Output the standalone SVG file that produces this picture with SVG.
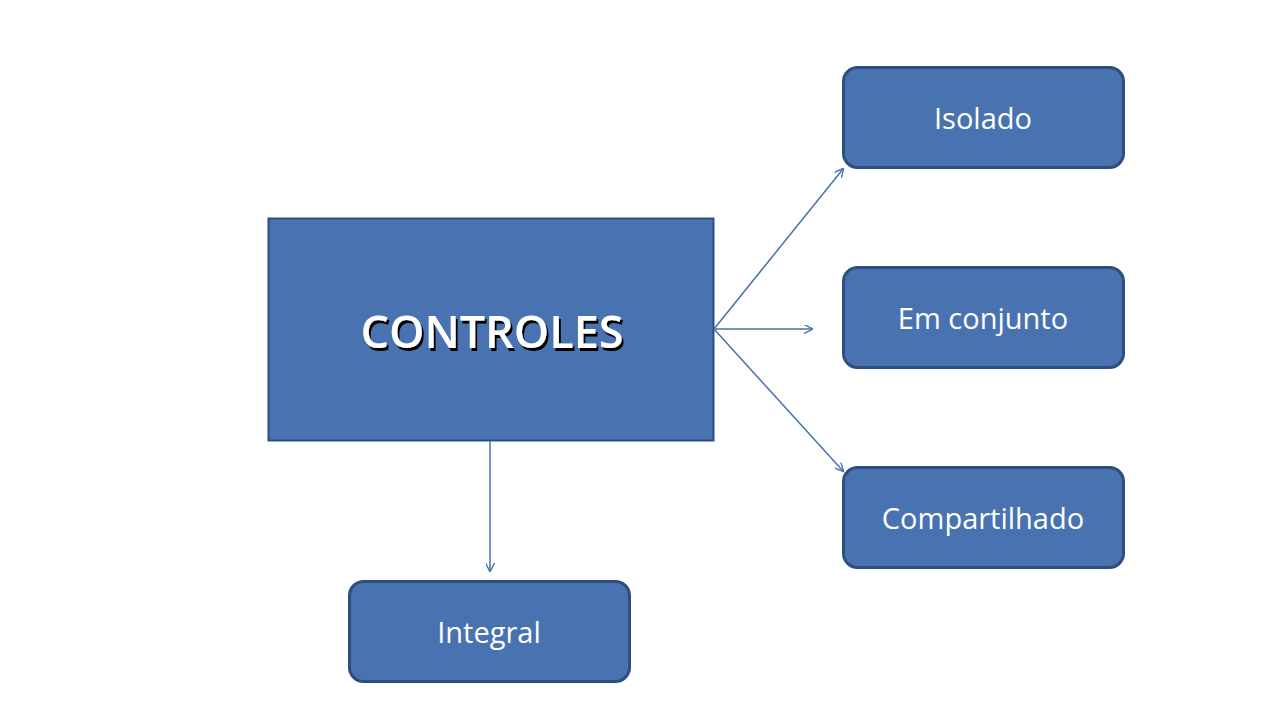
<svg xmlns="http://www.w3.org/2000/svg" width="1280" height="720" viewBox="0 0 1280 720">
<style>
.n{fill:#4873b0;stroke:#2e4f7c;stroke-width:3}
.t{font-family:"Open Sans","DejaVu Sans",sans-serif;font-size:29px;fill:#fff;text-anchor:middle}
.c{stroke:#4a70a8;stroke-width:1.5;fill:none;marker-end:url(#a)}
</style>
<defs>
<marker id="a" viewBox="0 0 10 10" refX="9" refY="5" markerWidth="9" markerHeight="9" orient="auto" markerUnits="userSpaceOnUse"><path d="M0 0L10 5L0 10" fill="none" stroke="#4a70a8" stroke-width="1.5"/></marker>
<filter id="sh" x="-10%" y="-30%" width="120%" height="160%"><feDropShadow dx="2" dy="3" stdDeviation="0.6" flood-color="#000" flood-opacity="1"/></filter>
</defs>
<rect width="1280" height="720" fill="#fff"/>
<g id="controles"><rect class="n" x="268.5" y="218.5" width="445" height="222" style="stroke-width:2"/>
<text x="492" y="348" class="t" style="font-size:45px;font-weight:600" filter="url(#sh)">CONTROLES</text></g>
<g id="isolado"><rect class="n" x="843.5" y="67.5" width="280" height="100" rx="14"/><text x="983" y="129" class="t">Isolado</text></g>
<g id="emconjunto"><rect class="n" x="843.5" y="267.5" width="280" height="100" rx="14"/><text x="983" y="329" class="t">Em conjunto</text></g>
<g id="compartilhado"><rect class="n" x="843.5" y="467.5" width="280" height="100" rx="14"/><text x="983" y="529" class="t">Compartilhado</text></g>
<g id="integral"><rect class="n" x="349.5" y="581.5" width="280" height="100" rx="14"/><text x="489" y="643" class="t">Integral</text></g>
<g id="connectors">
<path class="c" d="M714 329L843 169"/>
<path class="c" d="M714 329L812 329"/>
<path class="c" d="M714 329L843 471"/>
<path class="c" d="M490 441L490 571"/>
</g>
</svg>
